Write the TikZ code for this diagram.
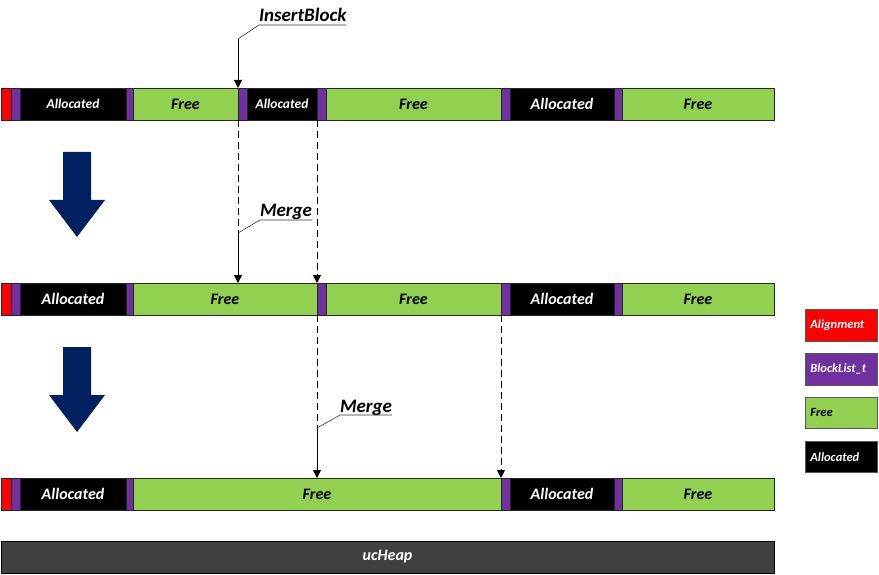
\documentclass[tikz,border=0pt]{standalone}
\usepackage{fontspec}
\setmainfont{Carlito}
\usetikzlibrary{arrows.meta,calc}
\definecolor{cred}{HTML}{FF0000}
\definecolor{cpur}{HTML}{7030A0}
\definecolor{cgrn}{HTML}{92D050}
\definecolor{cnavy}{HTML}{002060}
\definecolor{cgrey}{HTML}{404040}
\newcommand\seg[6]{\node[#5, minimum width={(#3-#2)*1pt}] (#1) at (#2,#4) {#6};}
\tikzset{
  seg/.style={draw=black!85, line width=0.8pt, inner sep=0pt, outer sep=0pt, anchor=north west,
    minimum height=32pt, font=\bfseries\itshape\fontsize{16}{16}\selectfont},
  algn/.style={seg, fill=cred},
  blk/.style={seg, fill=cpur},
  fre/.style={seg, fill=cgrn, text=black},
  alc/.style={seg, fill=black, text=white},
  smalltext/.style={font=\bfseries\itshape\fontsize{13.5}{13.5}\selectfont},
  lbl/.style={inner sep=0pt, outer sep=0pt, anchor=south west, text depth=3pt,
    font=\bfseries\itshape\fontsize{19}{19}\selectfont},
  leader/.style={line width=0.6pt, black!80},
  conn/.style={line width=1pt, -{Triangle[length=8pt,width=8pt]}},
  dsh/.style={line width=1pt, dash pattern=on 7pt off 4pt},
  bigarrow/.style={fill=cnavy, draw=none},
  leg/.style={draw=black!65, line width=0.8pt, anchor=north west, minimum height=32pt,
    text width=62pt, inner xsep=5pt, inner ysep=0pt, align=left,
    font=\bfseries\itshape\fontsize{12.5}{12.5}\selectfont},
}
\begin{document}
\begin{tikzpicture}[x=1pt,y=-1pt]
\useasboundingbox (0,0) rectangle (879,575);
% Row 1
\seg{a1}{1}{11}{88}{algn}{}
\seg{a1p1}{11}{20}{88}{blk}{}
\seg{a1A1}{20}{126}{88}{alc,smalltext}{Allocated}
\seg{a1p2}{126}{133}{88}{blk}{}
\seg{a1F1}{133}{238}{88}{fre}{Free}
\seg{a1p3}{238}{247}{88}{blk}{}
\seg{a1A2}{247}{317}{88}{alc,smalltext}{Allocated}
\seg{a1p4}{317}{326}{88}{blk}{}
\seg{a1F2}{326}{501}{88}{fre}{Free}
\seg{a1p5}{501}{510}{88}{blk}{}
\seg{a1A3}{510}{614}{88}{alc}{Allocated}
\seg{a1p6}{614}{622}{88}{blk}{}
\seg{a1F3}{622}{774}{88}{fre}{Free}
% Row 2
\seg{a2}{1}{11}{283}{algn}{}
\seg{a2p1}{11}{20}{283}{blk}{}
\seg{a2A1}{20}{126}{283}{alc}{Allocated}
\seg{a2p2}{126}{133}{283}{blk}{}
\seg{a2F1}{133}{317}{283}{fre}{Free}
\seg{a2p3}{317}{326}{283}{blk}{}
\seg{a2F2}{326}{501}{283}{fre}{Free}
\seg{a2p4}{501}{510}{283}{blk}{}
\seg{a2A3}{510}{614}{283}{alc}{Allocated}
\seg{a2p5}{614}{622}{283}{blk}{}
\seg{a2F3}{622}{774}{283}{fre}{Free}
% Row 3
\seg{a3}{1}{11}{478}{algn}{}
\seg{a3p1}{11}{20}{478}{blk}{}
\seg{a3A1}{20}{126}{478}{alc}{Allocated}
\seg{a3p2}{126}{133}{478}{blk}{}
\seg{a3F1}{133}{501}{478}{fre}{Free}
\seg{a3p3}{501}{510}{478}{blk}{}
\seg{a3A3}{510}{614}{478}{alc}{Allocated}
\seg{a3p4}{614}{622}{478}{blk}{}
\seg{a3F3}{622}{774}{478}{fre}{Free}
% ucHeap
\node[seg, fill=cgrey, text=white, draw=black, minimum width=773pt] (heap) at (1,541) {ucHeap};
% Legend
\node[leg, fill=cred, text=white] (lgA) at (805,309) {Alignment};
\node[leg, fill=cpur, text=white] (lgB) at (805,353) {BlockList\_t};
\node[leg, fill=cgrn, text=black, minimum height=31pt] (lgF) at (805,397) {Free};
\node[leg, fill=black, text=white, minimum height=31pt] (lgL) at (805,441) {Allocated};
% Big arrows
\fill[bigarrow] (63,152) -- (91,152) -- (91,200) -- (105,200) -- (77,237) -- (49,200) -- (63,200) -- cycle;
\fill[bigarrow] (63,347) -- (91,347) -- (91,395) -- (105,395) -- (77,432) -- (49,395) -- (63,395) -- cycle;
% InsertBlock
\node[lbl] (ib) at (259,25) {InsertBlock};
\coordinate (ibk) at (238,39);
\draw[leader] (ib.south east) -- (ib.south west) -- (ibk);
\draw[conn] (ibk) -- (a1p3.north west);
% Merge 1
\node[lbl] (m1) at (260,220) {Merge};
\coordinate (m1k) at (238,233);
\draw[leader] (m1.south east) -- (m1.south west) -- (m1k);
\draw[dsh] (a1p3.south west) -- (m1k);
\draw[conn] (m1k) -- (m1k |- a2F1.north);
\draw[dsh, -{Triangle[length=8pt,width=8pt]}] (a1p4.south west) -- (a2p3.north west);
% Merge 2
\node[lbl] (m2) at (340,415) {Merge};
\coordinate (m2k) at (317,428);
\draw[leader] (m2.south east) -- (m2.south west) -- (m2k);
\draw[dsh] (a2p3.south west) -- (m2k);
\draw[conn] (m2k) -- (m2k |- a3F1.north);
\draw[dsh, -{Triangle[length=8pt,width=8pt]}] (a2p4.south west) -- (a3p3.north west);
\end{tikzpicture}
\end{document}
